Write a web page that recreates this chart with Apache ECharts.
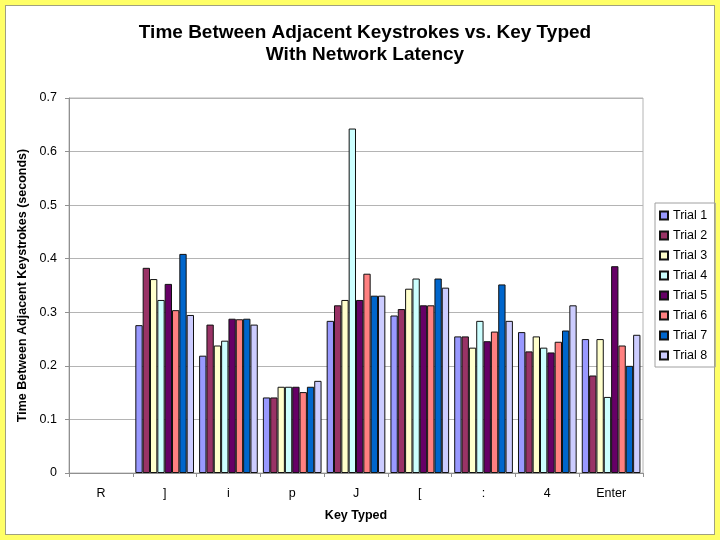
<!DOCTYPE html>
<html>
<head>
<meta charset="utf-8">
<script src="https://cdn.jsdelivr.net/npm/echarts@6/dist/echarts.min.js"></script>
<style>
html,body{margin:0;padding:0;}
#frame{position:absolute;left:0;top:0;width:720px;height:540px;background:#FFFF66;}
#inner{position:absolute;left:5px;top:5px;width:708px;height:528px;background:#fff;border:1px solid #a0a080;}
#chart{position:absolute;left:0;top:0;width:720px;height:540px;}
</style>
</head>
<body>
<div id="frame"><div id="inner"></div></div>
<div id="chart"></div>
<script>
const categories = ['R', ']', 'i', 'p', 'J', '[', ':', '4', 'Enter'];
const seriesNames = ['Trial 1','Trial 2','Trial 3','Trial 4','Trial 5','Trial 6','Trial 7','Trial 8'];
const trial1 = [null, 0.276, 0.219, 0.141, 0.284, 0.294, 0.255, 0.263, 0.250];
const trial2 = [null, 0.383, 0.277, 0.141, 0.313, 0.306, 0.255, 0.227, 0.182];
const trial3 = [null, 0.362, 0.238, 0.161, 0.323, 0.344, 0.234, 0.255, 0.250];
const trial4 = [null, 0.323, 0.247, 0.161, 0.643, 0.363, 0.284, 0.234, 0.142];
const trial5 = [null, 0.353, 0.288, 0.161, 0.323, 0.313, 0.246, 0.225, 0.386];
const trial6 = [null, 0.304, 0.287, 0.151, 0.372, 0.313, 0.264, 0.245, 0.238];
const trial7 = [null, 0.409, 0.288, 0.161, 0.331, 0.363, 0.352, 0.266, 0.200];
const trial8 = [null, 0.295, 0.277, 0.172, 0.331, 0.346, 0.284, 0.313, 0.258];
const yTicks = [0, 0.1, 0.2, 0.3, 0.4, 0.5, 0.6, 0.7];
const colors = ['#9999FF','#993366','#FFFFCC','#CCFFFF','#660066','#FF8080','#0066CC','#CCCCFF'];
const allData = [trial1, trial2, trial3, trial4, trial5, trial6, trial7, trial8];

const FONT = "'Liberation Sans', Arial, sans-serif";
const chart = echarts.init(document.getElementById('chart'));
chart.setOption({
  backgroundColor: 'transparent',
  animation: false,
  color: colors,
  title: {
    text: 'Time Between Adjacent Keystrokes vs. Key Typed\nWith Network Latency',
    left: 360, top: 17, textAlign: 'center',
    textStyle: {fontFamily: FONT, fontWeight: 'bold', fontSize: 19, lineHeight: 22, color: '#000'}
  },
  legend: {
    orient: 'vertical',
    left: 655, top: 203,
    padding: [6, 8, 5, 4],
    itemWidth: 8, itemHeight: 8,
    itemGap: 7,
    borderColor: '#a0a0a0', borderWidth: 1,
    icon: 'rect',
    textStyle: {fontFamily: FONT, fontSize: 12.5, color: '#000'},
    data: seriesNames
  },
  grid: {left: 69, right: 77, top: 98, bottom: 67, show: true, borderColor: '#b4b4b4', borderWidth: 1},
  xAxis: {
    type: 'category',
    data: categories,
    name: 'Key Typed',
    nameLocation: 'middle',
    nameGap: 36,
    nameTextStyle: {fontFamily: FONT, fontWeight: 'bold', fontSize: 12.5, color: '#000'},
    axisLine: {lineStyle: {color: '#909090'}},
    axisTick: {show: true, length: 4, lineStyle: {color: '#909090'}},
    axisLabel: {fontFamily: FONT, fontSize: 12.5, color: '#000', margin: 14}
  },
  yAxis: {
    type: 'value',
    min: 0, max: 0.7, interval: 0.1,
    name: 'Time Between Adjacent Keystrokes (seconds)',
    nameLocation: 'middle',
    nameGap: 36,
    nameTextStyle: {fontFamily: FONT, fontWeight: 'bold', fontSize: 12.5, color: '#000'},
    axisLine: {show: true, lineStyle: {color: '#909090'}},
    axisTick: {show: true, length: 4, lineStyle: {color: '#909090'}},
    axisLabel: {fontFamily: FONT, fontSize: 12.5, color: '#000', margin: 12,
      formatter: v => { const t = yTicks.find(x => Math.abs(x - v) < 1e-9); return t === 0 ? '0' : String(+v.toFixed(1)); }},
    splitLine: {lineStyle: {color: '#b4b4b4'}}
  },
  series: allData.map((d, i) => ({
    name: seriesNames[i],
    type: 'bar',
    data: d,
    barGap: '0%',
    barCategoryGap: '8%',
    itemStyle: {color: colors[i], borderColor: '#111', borderWidth: 1}
  }))
});
</script>
</body>
</html>
